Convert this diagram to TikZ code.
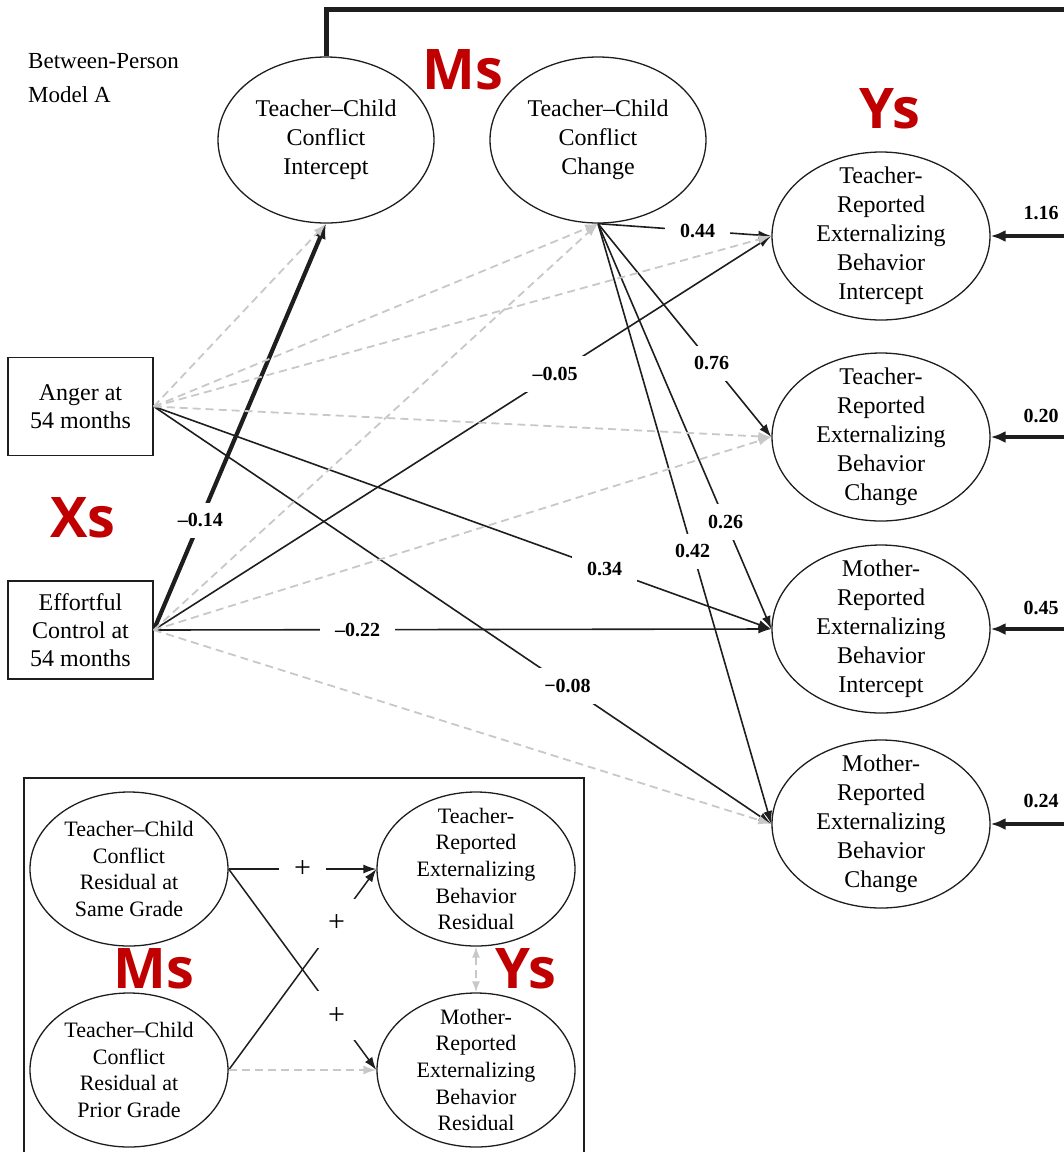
\documentclass[tikz,border=0pt]{standalone}
\usepackage{fontspec}
\setmainfont{Liberation Serif}
\newfontfamily\tagfont{Open Sans}
\usetikzlibrary{shapes.geometric,arrows.meta}
\definecolor{tagred}{RGB}{192,0,0}
\definecolor{nsgray}{RGB}{200,200,200}
\definecolor{ink}{RGB}{30,30,30}

\begin{document}
\begin{tikzpicture}[x=1pt,y=-1pt,
  latent/.style={ellipse, draw=ink, line width=1.3pt, inner sep=0pt, minimum width=216pt, minimum height=166pt},
  resbox/.style={ellipse, draw=ink, line width=1.3pt, inner sep=0pt, minimum width=198pt, minimum height=154pt},
  big/.style={align=center, inner sep=0pt, font=\fontsize{24}{29}\selectfont},
  mid/.style={align=center, inner sep=0pt, font=\fontsize{22}{26.7}\selectfont},
  observed/.style={draw=ink, line width=1.5pt, minimum width=145pt, minimum height=98pt, inner sep=0pt, align=center, font=\fontsize{24}{28}\selectfont},
  sig/.style={draw=ink, line width=1.6pt, -{Latex[length=13pt,width=9pt]}},
  sigbold/.style={draw=ink, line width=4.2pt, -{Latex[length=15pt,width=12pt]}},
  nonsig/.style={draw=nsgray, line width=1.8pt, dash pattern=on 8pt off 5pt, -{Latex[length=13pt,width=9pt]}},
  coef/.style={fill=white, inner xsep=15pt, inner ysep=11pt, font=\bfseries\fontsize{20}{22}\selectfont},
  resid/.style={inner sep=0pt, font=\bfseries\fontsize{20}{22}\selectfont},
  plus/.style={fill=white, inner xsep=15pt, inner ysep=16pt, font=\fontsize{30}{30}\selectfont},
  tag/.style={inner sep=0pt, text=tagred, font=\tagfont\bfseries\fontsize{56}{60}\selectfont},
]
\useasboundingbox (0,0) rectangle (1064,1152);
\clip (0,0) rectangle (1064,1152);

% title
\node[anchor=base west, inner sep=0pt, font=\fontsize{23}{33}\selectfont] (title1) at (28,68) {Between-Person};
\node[anchor=base west, inner sep=0pt, font=\fontsize{23}{33}\selectfont] (title2) at (28,102) {Model A};

% mediators
\node[latent] (tci) at (326,140) {};
\node[big] (tcit) at (tci) {Teacher–Child\\Conflict\\Intercept};
\node[latent] (tcc) at (598,140) {};
\node[big] (tcct) at (tcc) {Teacher–Child\\Conflict\\Change};

% outcomes
\node[latent, minimum width=218pt, minimum height=168pt] (trei) at (881,236) {};
\node[big] (treit) at (trei) {Teacher-\\Reported\\Externalizing\\Behavior\\Intercept};
\node[latent, minimum width=218pt, minimum height=168pt] (trec) at (881,437) {};
\node[big] (trect) at (trec) {Teacher-\\Reported\\Externalizing\\Behavior\\Change};
\node[latent, minimum width=218pt, minimum height=168pt] (mrei) at (881,629) {};
\node[big] (mreit) at (mrei) {Mother-\\Reported\\Externalizing\\Behavior\\Intercept};
\node[latent, minimum width=218pt, minimum height=168pt] (mrec) at (881,824) {};
\node[big] (mrect) at (mrec) {Mother-\\Reported\\Externalizing\\Behavior\\Change};

% predictors
\node[observed] (anger) at (80.5,406.5) {Anger at\\54 months};
\node[observed] (ec) at (80.5,630) {Effortful\\Control at\\54 months};

% group tags
\node[tag] (tagM) at (463,70) {Ms};
\node[tag] (tagY) at (890,109) {Ys};
\node[tag] (tagX) at (83,518) {Xs};

% significant paths
\draw[sigbold] (ec.east) -- node[coef, pos=0.27] {–0.14} (tci.south);
\draw[sig] (ec.east) -- node[coef, pos=0.65] {–0.05} (trei.west);
\draw[sig] (ec.east) -- node[coef, pos=0.33] {–0.22} (mrei.west);
\draw[sig] (anger.east) -- node[coef, pos=0.73] {0.34} (mrei.west);
\draw[sig] (anger.east) -- node[coef, pos=0.67] {−0.08} (mrec.west);
\draw[sig] (tcc.south) -- node[coef, pos=0.575] {0.44} (trei.west);
\draw[sig] (tcc.south) -- node[coef, pos=0.655] {0.76} (trec.west);
\draw[sig] (tcc.south) -- node[coef, pos=0.736] {0.26} (mrei.west);
\draw[sig] (tcc.south) -- node[coef, pos=0.546] {0.42} (mrec.west);

% non-significant paths
\draw[nonsig] (anger.east) -- (tci.south);
\draw[nonsig] (anger.east) -- (tcc.south);
\draw[nonsig] (ec.east) -- (tcc.south);
\draw[nonsig] (anger.east) -- (trei.west);
\draw[nonsig] (anger.east) -- (trec.west);
\draw[nonsig] (ec.east) -- (trec.west);
\draw[nonsig] (ec.east) -- (mrec.west);

% link from the intercept to the rest of the model
\coordinate (topright) at (1070,9);
\draw[ink, line width=5pt] (tci.north) |- (topright);

% residual paths entering from the right
\coordinate (r1) at (1070,236);
\coordinate (r2) at (1070,437);
\coordinate (r3) at (1070,629);
\coordinate (r4) at (1070,824);
\draw[sigbold, line width=4pt] (r1) -- (trei.east);
\draw[sigbold, line width=4pt] (r2) -- (trec.east);
\draw[sigbold, line width=4pt] (r3) -- (mrei.east);
\draw[sigbold, line width=4pt] (r4) -- (mrec.east);
\node[resid] (v1) at (1041,213) {1.16};
\node[resid] (v2) at (1041,416) {0.20};
\node[resid] (v3) at (1041,608) {0.45};
\node[resid] (v4) at (1041,801) {0.24};

% within-person inset
\draw[ink, line width=1.6pt] (24,1170) |- (584,778) -- (584,1170);
\node[resbox] (ress) at (129,869) {};
\node[mid] (resst) at (ress) {Teacher–Child\\Conflict\\Residual at\\Same Grade};
\node[resbox] (resp) at (129,1070) {};
\node[mid] (respt) at (resp) {Teacher–Child\\Conflict\\Residual at\\Prior Grade};
\node[resbox] (trr) at (476,869) {};
\node[mid] (trrt) at (trr) {Teacher-\\Reported\\Externalizing\\Behavior\\Residual};
\node[resbox] (mrr) at (476,1070) {};
\node[mid] (mrrt) at (mrr) {Mother-\\Reported\\Externalizing\\Behavior\\Residual};

\draw[sig, line width=1.5pt] (ress.east) -- node[plus] {+} (trr.west);
\draw[sig, line width=1.5pt] (ress.east) -- node[plus, pos=0.73] {+} (mrr.west);
\draw[sig, line width=1.5pt] (resp.east) -- node[plus, pos=0.73] {+} (trr.west);
\draw[nonsig, line width=1.6pt] (resp.east) -- (mrr.west);
\draw[nonsig, line width=1.6pt, {Latex[length=11pt,width=8pt]}-{Latex[length=11pt,width=8pt]}] (trr.south) -- (mrr.north);

\node[tag] (tagM2) at (154,969) {Ms};
\node[tag] (tagY2) at (526,969) {Ys};
\end{tikzpicture}
\end{document}
